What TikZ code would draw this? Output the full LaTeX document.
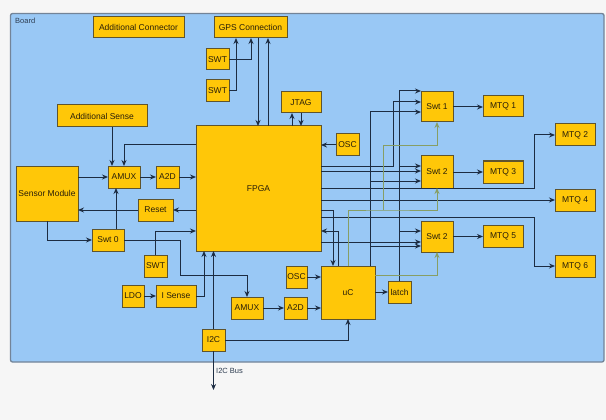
\documentclass[tikz,border=0pt]{standalone}
\usepackage{fontspec}
\setmainfont{Liberation Sans}
\usetikzlibrary{arrows.meta,calc}
\definecolor{bgc}{RGB}{246,246,246}
\definecolor{boardfill}{RGB}{153,200,245}
\definecolor{boardline}{RGB}{115,132,152}
\definecolor{boxfill}{RGB}{255,199,8}
\definecolor{boxline}{RGB}{95,84,45}
\definecolor{linec}{RGB}{28,44,66}
\definecolor{greenc}{RGB}{135,158,100}
\definecolor{txtc}{RGB}{40,30,8}
\definecolor{lblc}{RGB}{45,60,80}
\newcommand{\mybox}[6]{\node[box, minimum width={(#4-#2)*1pt}, minimum height={(#5-#3)*1pt}] (#1) at ({(#2+#4)/2},{(#3+#5)/2}) {#6};}
\begin{document}
\begin{tikzpicture}[x=1pt,y=-1pt,
 box/.style={draw=boxline,fill=boxfill,line width=1pt,inner sep=0pt,outer sep=0pt,font=\fontsize{8.5}{10}\selectfont,text=txtc},
 conn/.style={draw=linec,line width=1pt,-{Stealth[length=6pt,width=5pt]}},
 gconn/.style={draw=greenc,line width=1pt,-{Stealth[length=6pt,width=5pt]}}]
\fill[bgc] (0,0) rectangle (606,420);
\useasboundingbox (0,0) rectangle (606,420);
\draw[boardline, fill=boardfill, line width=1.3pt, rounded corners=2pt] (10.5,13.5) rectangle (604,362);
\node[anchor=north west, inner sep=0pt, font=\fontsize{7.5}{9}\selectfont, text=lblc] (boardlbl) at (15,18) {Board};

\mybox{addconn}{93}{17}{184}{38}{Additional Connector}
\mybox{gps}{214}{17}{287}{38}{GPS Connection}
\mybox{swtA}{206}{49}{229}{70}{SWT}
\mybox{swtB}{206}{80}{229}{102}{SWT}
\mybox{jtag}{281}{92}{321}{113}{JTAG}
\mybox{addsense}{57}{105}{147}{127}{Additional Sense}
\mybox{fpga}{196}{126}{321}{251}{FPGA}
\mybox{osc1}{336}{134}{359}{156}{OSC}
\mybox{amux1}{108}{166}{140}{188}{AMUX}
\mybox{a2d1}{156}{166}{179}{188}{A2D}
\mybox{sensor}{16}{166}{78}{221}{Sensor Module}
\mybox{reset}{138}{199}{173}{221}{Reset}
\mybox{swt0}{92}{229}{124}{251}{Swt 0}
\mybox{swtC}{144}{255}{167}{277}{SWT}
\mybox{ldo}{122}{285}{144}{307}{LDO}
\mybox{isense}{156}{285}{196}{307}{I Sense}
\mybox{amux2}{231}{297}{263}{319}{AMUX}
\mybox{a2d2}{284}{297}{307}{319}{A2D}
\mybox{osc2}{286}{266}{307}{288}{OSC}
\mybox{uc}{321}{266}{375}{319}{uC}
\mybox{latch}{388}{281}{411}{303}{latch}
\mybox{i2c}{202}{329}{225}{351}{I2C}
\mybox{swt1}{421}{92}{453}{122}{Swt 1}
\mybox{swt2a}{421}{156}{453}{188}{Swt 2}
\mybox{swt2b}{421}{221}{453}{252}{Swt 2}
\mybox{mtq1}{483}{96}{523}{117}{MTQ 1}
\mybox{mtq2}{555}{124}{595}{146}{MTQ 2}
\mybox{mtq3}{483}{161}{523}{183}{MTQ 3}
\mybox{mtq4}{555}{189}{595}{211}{MTQ 4}
\mybox{mtq5}{483}{225}{523}{247}{MTQ 5}
\mybox{mtq6}{555}{255}{595}{277}{MTQ 6}

\coordinate (busend) at (213.5,390);
\node[anchor=west, inner sep=0pt, font=\fontsize{7.5}{9}\selectfont, text=lblc] (buslbl) at (216,371) {I2C Bus};

% top
\draw[conn] (swtA.east) -| (251,0 |- gps.south);
\draw[conn] (swtB.east) -| (236,0 |- gps.south);
\draw[conn] (258,0 |- gps.south) -- (258,0 |- fpga.north);
\draw[conn] (268,0 |- fpga.north) -- (268,0 |- gps.south);
\draw[conn] (292,0 |- fpga.north) -- (292,0 |- jtag.south);
\draw[conn] (301,0 |- jtag.south) -- (301,0 |- fpga.north);
\draw[conn] (osc1.west) -- (fpga.east |- osc1.west);
% left
\draw[conn] (112,0 |- addsense.south) -- (112,0 |- amux1.north);
\draw[conn] (fpga.west |- 0,145) -| (amux1.north);
\draw[conn] (sensor.east |- amux1.west) -- (amux1.west);
\draw[conn] (amux1.east) -- (a2d1.west);
\draw[conn] (a2d1.east) -- (fpga.west |- a2d1.east);
\draw[conn] (fpga.west |- reset.east) -- (reset.east);
\draw[conn] (reset.west) -- (sensor.east |- reset.west);
\draw[conn] (sensor.south) |- (swt0.west);
\draw[conn] (116,0 |- swt0.north) -- (116,0 |- amux1.south);
\draw[conn] (swt0.east) -| (180,275) -| (amux2.north);
\draw[conn] (swtC.north) |- (fpga.west |- 0,231);
\draw[conn] (ldo.east) -- (isense.west);
\draw[conn] (isense.east) -| (204,0 |- fpga.south);
% bottom
\draw[conn] (i2c.north) -- (i2c.north |- fpga.south);
\draw[conn] (i2c.south) -- (busend);
\draw[conn] (i2c.east) -| (uc.south);
\draw[conn] (amux2.east) -- (a2d2.west);
\draw[conn] (a2d2.east) -- (uc.west |- a2d2.east);
\draw[conn] (osc2.east) -- (uc.west |- osc2.east);
\draw[conn] (uc.east |- latch.west) -- (latch.west);
\draw[conn] (fpga.east |- 0,210) -| (333,0 |- uc.north);
\draw[conn] (338,0 |- uc.north) |- (fpga.east |- 0,231);
% latch to switches
\draw[conn] (latch.north) |- (swt1.west |- 0,91);
\draw[conn] (latch.north |- 0,166) -- (swt2a.west |- 0,166);
\draw[conn] (latch.north |- 0,231) -- (swt2b.west |- 0,231);
% fpga to switches
\draw[conn] (fpga.east |- 0,166) -| (393,102) -- (swt1.west |- 0,102);
\draw[conn] (fpga.east |- 0,171) -- (swt2a.west |- 0,171);
\draw[conn] (fpga.east |- 0,242) -- (swt2b.west |- 0,242);
% uc to switches
\draw[conn] (370,0 |- uc.north) |- (swt1.west |- 0,112);
\draw[conn] (370,181) -- (swt2a.west |- 0,181);
\draw[conn] (370,246) -- (swt2b.west |- 0,246);
% fpga to mtq
\draw[conn] (fpga.east |- 0,188) -| (534,0 |- mtq2.west) -- (mtq2.west);
\draw[conn] (fpga.east |- mtq4.west) -- (mtq4.west);
\draw[conn] (fpga.east |- 0,217) -| (534,0 |- mtq6.west) -- (mtq6.west);
% switches to mtq
\draw[conn] (swt1.east) -- (mtq1.west |- swt1.east);
\draw[conn] (swt2a.east) -- (mtq3.west |- swt2a.east);
\draw[conn] (swt2b.east) -- (mtq5.west |- swt2b.east);
% green
\draw[gconn] (uc.north) |- (383,210) -| (swt2a.south);
\draw[gconn] (383,210) |- (swt1.south |- 0,146) -- (swt1.south);
\draw[gconn] (uc.east |- 0,275) -| (swt2b.south);
\end{tikzpicture}
\end{document}
